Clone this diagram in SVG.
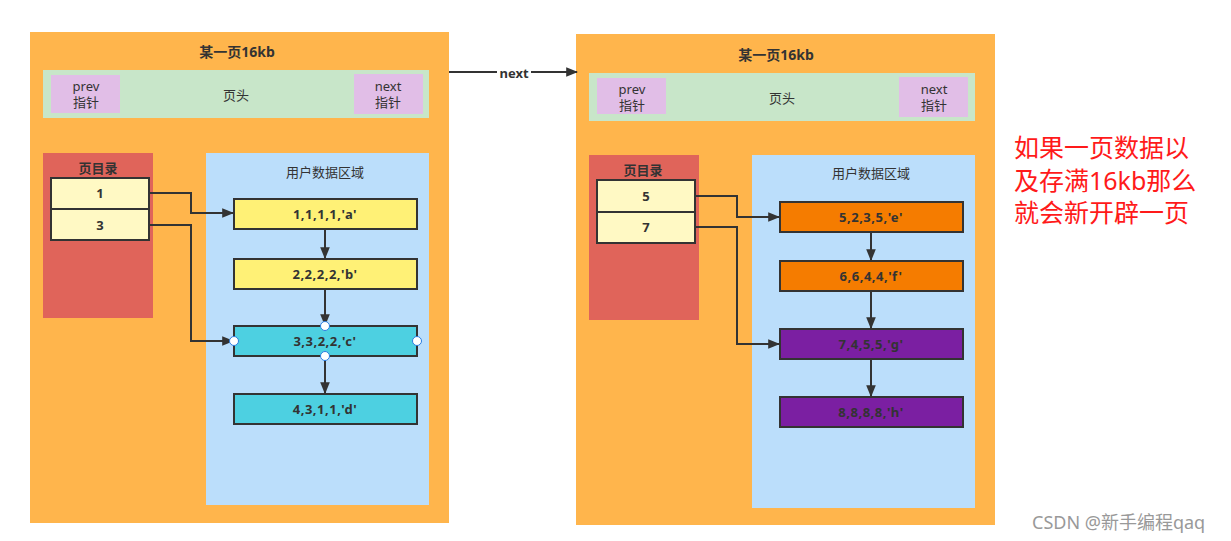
<svg xmlns="http://www.w3.org/2000/svg" width="1231" height="541" viewBox="0 0 1231 541">
<style>
text{font-family:"Noto Sans","Noto Sans CJK SC",sans-serif;fill:#333;text-anchor:middle;dominant-baseline:central}
.page{fill:#FFB54C}
.hdr{fill:#C8E6C9}
.ptr{fill:#E1BEE7}
.dir{fill:#E0645A}
.usr{fill:#BBDEFB}
.ent{fill:#FFF9C4;stroke:#333;stroke-width:2}
.rec{stroke:#333;stroke-width:2}
.t{font-weight:bold;font-size:14px}
.b{font-weight:bold;font-size:13px}
.r{letter-spacing:0.5px}
.n{font-size:13px}
.conn{fill:none;stroke:#333;stroke-width:2;marker-end:url(#ah)}
.h{fill:#fff;stroke:#2a7de1;stroke-width:1}
.note{fill:#FF1A1A;text-anchor:start;font-size:25px}
</style>
<defs>
<marker id="ah" viewBox="0 0 10 10" refX="9" refY="5" markerWidth="6" markerHeight="6" orient="auto" markerUnits="strokeWidth"><path d="M0,1 L10,5 L0,9 Z" fill="#333"/></marker>
</defs>
<rect width="1231" height="541" fill="#fff"/>
<g id="page1">
<rect class="page" x="30" y="32" width="419" height="491"/>
<text class="t" x="237" y="51">某一页16kb</text>
<rect class="hdr" x="43" y="70" width="386" height="48"/>
<text class="n" x="236" y="95">页头</text>
<rect class="ptr" x="51" y="75" width="69" height="38"/>
<text class="n" x="86" y="86">prev</text><text class="n" x="86" y="102">指针</text>
<rect class="ptr" x="354" y="74" width="69" height="40"/>
<text class="n" x="388" y="86">next</text><text class="n" x="388" y="102">指针</text>
<rect class="dir" x="43" y="153" width="110" height="165"/>
<text class="b" x="98" y="168" style="font-weight:600">页目录</text>
<rect class="usr" x="206" y="153" width="223" height="352"/>
<text class="n" x="325" y="172">用户数据区域</text>
</g>
<g id="ent1"><rect class="ent" x="51" y="178" width="98" height="31"/><text class="b" x="100" y="193">1</text></g>
<g id="ent3"><rect class="ent" x="51" y="209" width="98" height="31"/><text class="b" x="100" y="225">3</text></g>
<g id="recA"><rect class="rec" fill="#FFF176" x="234" y="199" width="183" height="30"/><text class="b r" x="325" y="214">1,1,1,1,'a'</text></g>
<g id="recB"><rect class="rec" fill="#FFF176" x="234" y="259" width="183" height="30"/><text class="b r" x="325" y="274">2,2,2,2,'b'</text></g>
<g id="recC"><rect class="rec" fill="#4DD0E1" x="234" y="326" width="183" height="30"/><text class="b r" x="325" y="341">3,3,2,2,'c'</text></g>
<g id="recD"><rect class="rec" fill="#4DD0E1" x="234" y="394" width="183" height="30"/><text class="b r" x="325" y="409">4,3,1,1,'d'</text></g>
<g id="page2">
<rect class="page" x="576" y="34" width="419" height="491"/>
<text class="t" x="776" y="54">某一页16kb</text>
<rect class="hdr" x="589" y="73" width="386" height="48"/>
<text class="n" x="782" y="98">页头</text>
<rect class="ptr" x="597" y="78" width="69" height="36"/>
<text class="n" x="632" y="89">prev</text><text class="n" x="632" y="105">指针</text>
<rect class="ptr" x="899" y="77" width="69" height="40"/>
<text class="n" x="934" y="89">next</text><text class="n" x="934" y="105">指针</text>
<rect class="dir" x="589" y="155" width="110" height="165"/>
<text class="b" x="643" y="170" style="font-weight:600">页目录</text>
<rect class="usr" x="752" y="155" width="223" height="353"/>
<text class="n" x="871" y="173">用户数据区域</text>
</g>
<g id="ent5"><rect class="ent" x="597" y="180" width="98" height="32"/><text class="b" x="646" y="196">5</text></g>
<g id="ent7"><rect class="ent" x="597" y="212" width="98" height="31"/><text class="b" x="646" y="227">7</text></g>
<g id="recE"><rect class="rec" fill="#F57C00" x="780" y="202" width="183" height="30"/><text class="b r" x="871" y="217">5,2,3,5,'e'</text></g>
<g id="recF"><rect class="rec" fill="#F57C00" x="780" y="261" width="183" height="30"/><text class="b r" x="871" y="276">6,6,4,4,'f'</text></g>
<g id="recG"><rect class="rec" fill="#7B1FA2" x="780" y="329" width="183" height="30"/><text class="b r" x="871" y="344">7,4,5,5,'g'</text></g>
<g id="recH"><rect class="rec" fill="#7B1FA2" x="780" y="397" width="183" height="30"/><text class="b r" x="871" y="412">8,8,8,8,'h'</text></g>
<g id="connectors">
<path class="conn" d="M149,193 H191 V213 H233"/>
<path class="conn" d="M149,225 H191 V341 H233"/>
<path class="conn" d="M325,229 V258"/>
<path class="conn" d="M325,289 V325"/>
<path class="conn" d="M325,356 V393"/>
<path class="conn" d="M695,196 H737 V217 H779"/>
<path class="conn" d="M695,227 H737 V344 H779"/>
<path class="conn" d="M871,232 V260"/>
<path class="conn" d="M871,291 V328"/>
<path class="conn" d="M871,359 V396"/>
<path class="conn" d="M449,72 H577"/>
<rect x="497" y="65" width="34" height="15" fill="#fff"/>
<text class="b" x="514" y="73">next</text>
</g>
<g id="handles">
<circle class="h" cx="234" cy="341" r="4.5"/>
<circle class="h" cx="417" cy="341" r="4.5"/>
<circle class="h" cx="325" cy="326" r="4.5"/>
<circle class="h" cx="325" cy="356" r="4.5"/>
</g>
<g id="note">
<text class="note" x="1014" y="147">如果一页数据以</text>
<text class="note" x="1014" y="180">及存满16kb那么</text>
<text class="note" x="1014" y="212">就会新开辟一页</text>
</g>
<text x="1032" y="522" style="fill:#999;text-anchor:start;font-size:18px">CSDN @新手编程qaq</text>
</svg>
